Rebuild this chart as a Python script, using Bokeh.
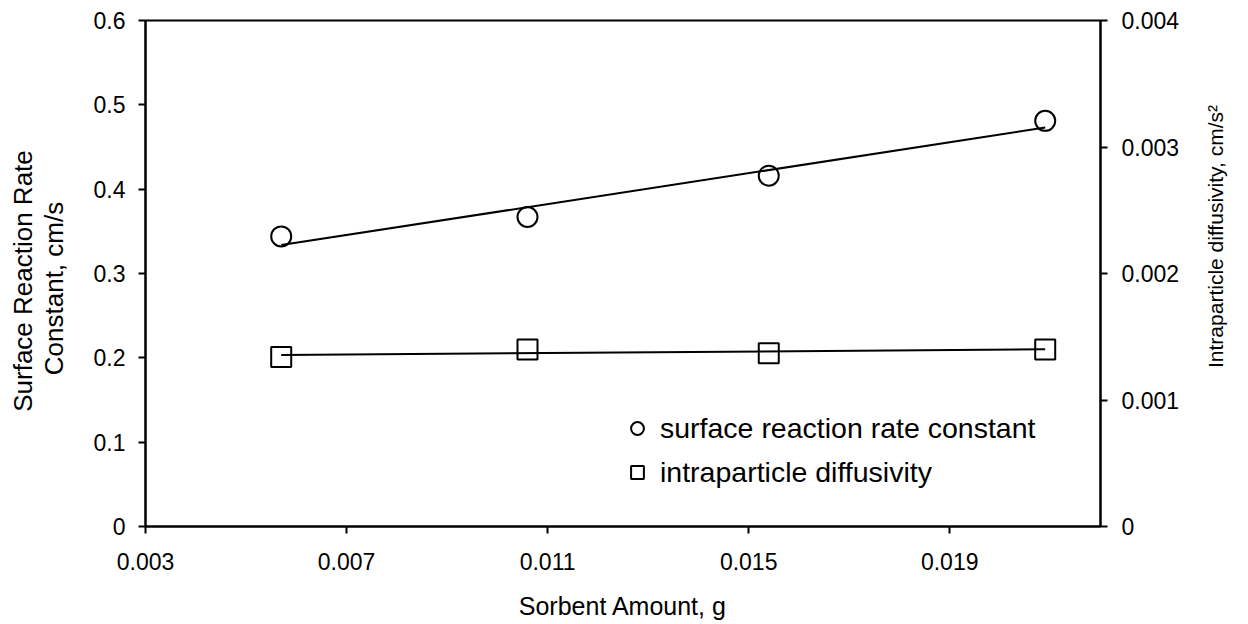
import numpy as np
from bokeh.plotting import figure
from bokeh.layouts import row
from bokeh.models import Range1d, LinearAxis, FixedTicker, Legend, LegendItem
from bokeh.core.properties import value
from bokeh.embed import file_html
from bokeh.resources import INLINE

# Sorbent amount (g) with the fitted kinetic parameters
sorbent_g = [0.0057, 0.0106, 0.0154, 0.0209]
rate_constant = [0.344, 0.367, 0.416, 0.481]          # cm/s
diffusivity = [0.00134, 0.00140, 0.00137, 0.00140]    # cm/s^2

x_ticks = [0.003, 0.007, 0.011, 0.015, 0.019]
x_tick_labels = ["0.003", "0.007", "0.011", "0.015", "0.019"]
left_ticks = [0, 0.1, 0.2, 0.3, 0.4, 0.5, 0.6]
left_tick_labels = ["0", "0.1", "0.2", "0.3", "0.4", "0.5", "0.6"]
right_ticks = [0, 0.001, 0.002, 0.003, 0.004]
right_tick_labels = ["0", "0.001", "0.002", "0.003", "0.004"]

left_title_lines = ["Surface Reaction Rate", "Constant, cm/s"]
right_title = "Intraparticle diffusivity, cm/s\u00b2"
x_title = "Sorbent Amount, g"

FONT = "Liberation Sans"
TICK_SIZE = "23px"
H = 624
FRAME_TOP, FRAME_BOTTOM = 20, 526
LEFT_W, RIGHT_W = 70, 60
MAIN_W = 1248 - LEFT_W - RIGHT_W

p = figure(width=MAIN_W, height=H, output_backend="svg", toolbar_location=None,
           x_range=Range1d(0.003, 0.022), y_range=Range1d(0, 0.6),
           min_border_left=75, min_border_right=88,
           min_border_top=FRAME_TOP, min_border_bottom=H - FRAME_BOTTOM)
p.extra_y_ranges = {"diff": Range1d(0, 0.004)}
p.grid.visible = False
p.outline_line_color = "black"
p.outline_line_width = 2


def style_axis(ax, ticks, labels, standoff):
    ax.ticker = FixedTicker(ticks=ticks)
    ax.major_label_overrides = dict(zip(ticks, labels))
    ax.axis_line_color = "black"
    ax.axis_line_width = 2
    ax.major_tick_line_color = "black"
    ax.major_tick_line_width = 2
    ax.major_tick_in = 0
    ax.major_tick_out = 7
    ax.minor_tick_line_color = None
    ax.major_label_text_font = FONT
    ax.major_label_text_font_size = TICK_SIZE
    ax.major_label_text_color = "black"
    ax.major_label_standoff = standoff


style_axis(p.xaxis[0], x_ticks, x_tick_labels, 19)
style_axis(p.yaxis[0], left_ticks, left_tick_labels, 13)

right_axis = LinearAxis(y_range_name="diff")
style_axis(right_axis, right_ticks, right_tick_labels, 14)
p.add_layout(right_axis, "right")

xax = p.xaxis[0]
xax.axis_label = x_title
xax.axis_label_text_font = FONT
xax.axis_label_text_font_size = "25px"
xax.axis_label_text_font_style = "normal"
xax.axis_label_text_color = "black"
xax.axis_label_standoff = 19

# Linear trend lines across the measured range
xs = np.array(sorbent_g)
x_fit = np.array([xs.min(), xs.max()])
k_fit = np.polyval(np.polyfit(xs, rate_constant, 1), x_fit)
d_fit = np.polyval(np.polyfit(xs, diffusivity, 1), x_fit)

p.line(x_fit, k_fit, line_color="black", line_width=2)
p.line(x_fit, d_fit, line_color="black", line_width=2, y_range_name="diff")

circ = p.scatter(sorbent_g, rate_constant, marker="circle", size=20,
                 fill_color=None, line_color="black", line_width=2)
sq = p.scatter(sorbent_g, diffusivity, marker="square", size=20,
               fill_color=None, line_color="black", line_width=2,
               y_range_name="diff")

legend = Legend(items=[
    LegendItem(label="surface reaction rate constant", renderers=[circ]),
    LegendItem(label="intraparticle diffusivity", renderers=[sq]),
], location=(476, 37), glyph_width=32, glyph_height=34, label_standoff=7,
    spacing=10, padding=0, margin=0, border_line_color=None,
    background_fill_alpha=0, label_text_font=FONT,
    label_text_font_size="28.5px", label_text_color="black")
p.add_layout(legend)


def title_strip(width, xs_px, ys_px, texts, size):
    """Narrow strip holding rotated axis titles; its frame lines up with the
    main plot frame, so the y range is expressed in page pixels."""
    f = figure(width=width, height=H, output_backend="svg",
               toolbar_location=None, x_range=Range1d(0, width),
               y_range=Range1d(FRAME_BOTTOM, FRAME_TOP), min_border=0,
               min_border_top=FRAME_TOP, min_border_bottom=H - FRAME_BOTTOM,
               x_axis_type=None, y_axis_type=None)
    f.grid.visible = False
    f.outline_line_color = None
    f.text(x=xs_px, y=ys_px, text=texts, angle=np.pi / 2,
           text_align="center", text_baseline="middle",
           text_font=value(FONT), text_font_size=value(size),
           text_color="black")
    return f


left_strip = title_strip(LEFT_W, [22.5, 53.5], [280.5, 288], left_title_lines, "26px")
right_strip = title_strip(RIGHT_W, [27], [236], [right_title], "21px")

layout = row(left_strip, p, right_strip)
open("out.html", "w").write(file_html(layout, INLINE))
